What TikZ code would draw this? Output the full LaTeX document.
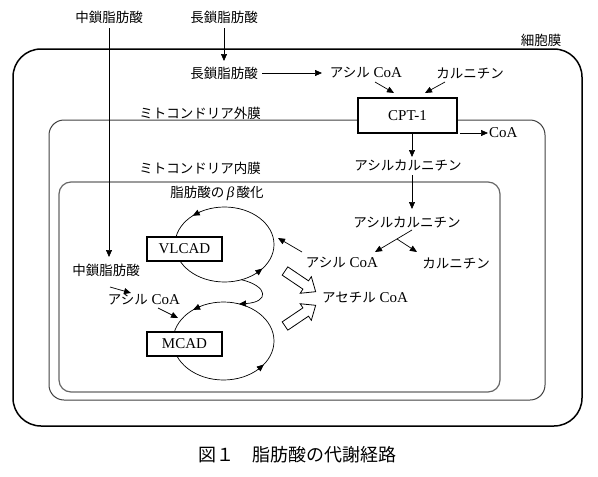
\documentclass[tikz,border=0pt]{standalone}
\usepackage{fontspec}
\setmainfont{Liberation Serif}
\newfontfamily\jp{Noto Sans CJK JP}
\usetikzlibrary{arrows.meta,calc}
\newcommand\J[1]{{\jp\fontsize{13.5}{16}\selectfont #1}}
\begin{document}
\begin{tikzpicture}[x=1pt,y=-1pt,
  lbl/.style={inner sep=0pt, font=\fontsize{15}{17}\selectfont},
  arr/.style={line width=0.7pt,-{Triangle[length=7pt,width=6pt]}},
  enz/.style={draw, line width=1.6pt, fill=white, minimum width=75pt, minimum height=24pt, inner sep=0pt, font=\fontsize{15}{17}\selectfont},
  blk/.style={draw, line width=0.8pt, fill=white, line join=miter}]
\useasboundingbox (0,0) rectangle (598,477);

% membranes
\draw[line width=1.5pt, rounded corners=28pt] (13,49) rectangle (582,426);
\draw[line width=1pt, black!75, rounded corners=15pt] (49,120) rectangle (545,400);
\draw[line width=1.2pt, black!60, rounded corners=12pt] (59,182) rectangle (500,392);

% labels
\node[lbl] (cell) at (541,40) {\J{細胞膜}};
\node[lbl] (mcfa1) at (109,17) {\J{中鎖脂肪酸}};
\node[lbl] (lcfa1) at (224,17) {\J{長鎖脂肪酸}};
\node[lbl] (lcfa2) at (224,73) {\J{長鎖脂肪酸}};
\node[lbl] (acoa1) at (366,73) {\J{アシル} CoA};
\node[lbl] (carn1) at (470,73) {\J{カルニチン}};
\node[enz, minimum width=99pt, minimum height=35pt] (cpt) at (407.5,115.5) {CPT-1};
\node[lbl, anchor=west] (coa) at (489,133) {CoA};
\node[lbl] (outer) at (200,113) {\J{ミトコンドリア外膜}};
\node[lbl] (inner) at (200,168) {\J{ミトコンドリア内膜}};
\node[lbl] (acarn1) at (408,165) {\J{アシルカルニチン}};
\node[lbl] (acarn2) at (407,222) {\J{アシルカルニチン}};
\node[lbl] (acoa2) at (342,263) {\J{アシル} CoA};
\node[lbl] (carn2) at (456,263) {\J{カルニチン}};
\node[lbl] (acetyl) at (365,298) {\J{アセチル} CoA};
\node[lbl] (beta) at (217,193) {\J{脂肪酸の}\,\textit{β}\,\J{酸化}};
\node[lbl] (mcfa2) at (106,270) {\J{中鎖脂肪酸}};
\node[lbl] (acoa3) at (144,300) {\J{アシル} CoA};

% cycles
\coordinate (vc) at (224.5,244.5);
\coordinate (mcc) at (223.5,341);
\draw[line width=0.7pt] (vc) ellipse [x radius=49.5, y radius=37.5];
\draw[line width=0.7pt] (mcc) ellipse [x radius=50.5, y radius=39];
\draw[arr] ($(vc)+(-120:49.5 and 37.5)$) -- ($(vc)+(-130:49.5 and 37.5)$);
\draw[arr] ($(vc)+(50:49.5 and 37.5)$) -- ($(vc)+(40:49.5 and 37.5)$);
\draw[arr] ($(mcc)+(-117:50.5 and 39)$) -- ($(mcc)+(-127:50.5 and 39)$);
\draw[arr] ($(mcc)+(47:50.5 and 39)$) -- ($(mcc)+(37:50.5 and 39)$);
\draw[arr] ($(vc)+(70:49.5 and 37.5)$) .. controls (268,286) and (270,302) .. (239,304);

\node[enz] (vl) at (184.5,249) {VLCAD};
\node[enz] (mc) at (184.5,344) {MCAD};

% block arrows
\begin{scope}[shift={(285,271)}, rotate=-34]
\draw[blk] (0,-5) -- (25,-5) -- (25,-10) -- (37,0) -- (25,10) -- (25,5) -- (0,5) -- cycle;
\end{scope}
\begin{scope}[shift={(285,326)}, rotate=34]
\draw[blk] (0,-5) -- (25,-5) -- (25,-10) -- (37,0) -- (25,10) -- (25,5) -- (0,5) -- cycle;
\end{scope}

% arrows
\draw[arr] (109,28) -- (109,257);
\draw[arr] (224,28) -- (224,61);
\draw[arr] (262,73) -- (322,73);
\draw[arr] (375,82) -- (394,93);
\draw[arr] (445,82) -- (425,93);
\draw[arr] (460,133) -- (488,133);
\draw[arr] (412,133) -- (412,157);
\draw[arr] (412,175) -- (412,209);
\draw[arr] (412,230) -- (375,252);
\draw[arr] (397,239) -- (417,252);
\draw[arr] (302,252) -- (278,238);
\draw[arr] (110,287) -- (131,293);
\draw[arr] (158,308) -- (178,318);

% caption
\node[inner sep=0pt] (cap) at (297,455) {\jp\fontsize{18}{20}\selectfont 図１　脂肪酸の代謝経路};
\end{tikzpicture}
\end{document}
